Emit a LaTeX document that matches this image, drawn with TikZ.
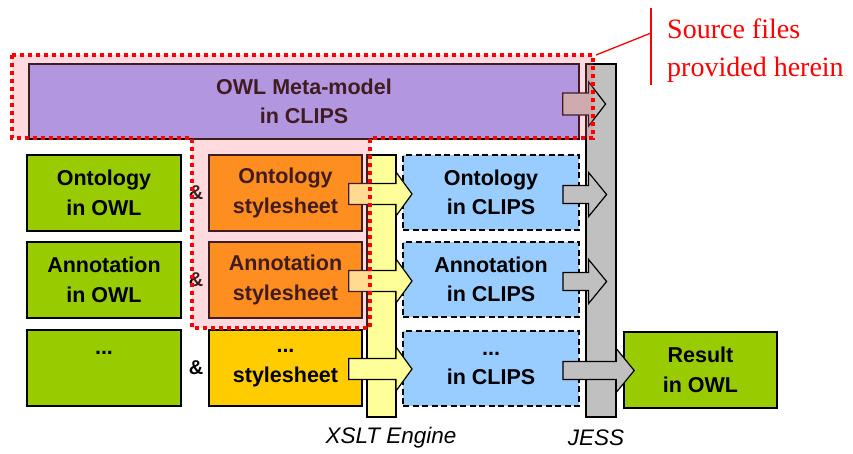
\documentclass[tikz,border=0pt]{standalone}
\usepackage{fontspec}
\setmainfont{Liberation Sans}
\newfontfamily\serifrm{Liberation Serif}
\usetikzlibrary{calc}
\definecolor{owlgreen}{HTML}{99CC00}
\definecolor{owlorange}{HTML}{FF9900}
\definecolor{owlgold}{HTML}{FFCC00}
\definecolor{owlblue}{HTML}{99CCFF}
\definecolor{owllav}{HTML}{99A4FF}
\definecolor{owlyellow}{HTML}{FFFF99}
\definecolor{owlgray}{HTML}{C0C0C0}
\definecolor{owlpink}{HTML}{FF7080}
% #1 style, #2 start coord name, #3 tip coord name (x used), #4 shaft half, #5 head half, #6 head length
\newcommand\blockarrow[6]{%
  \path[#1] let \p1=(#2), \p2=(#3) in
    (\x1,\y1+#4) -- (\x2-#6,\y1+#4) -- (\x2-#6,\y1+#5) -- (\x2,\y1)
    -- (\x2-#6,\y1-#5) -- (\x2-#6,\y1-#4) -- (\x1,\y1-#4) -- cycle;}
\tikzset{
  boxtext/.style={font=\bfseries\fontsize{21.5}{29.5}\selectfont, align=center, text=black},
  solidbox/.style={boxtext, draw=black, line width=1.6pt, rectangle, inner sep=0pt,
    minimum width=154pt, minimum height=76pt},
  greenbox/.style={solidbox, fill=owlgreen},
  orangebox/.style={solidbox, fill=owlorange, minimum width=153pt},
  goldbox/.style={solidbox, fill=owlgold, minimum width=153pt},
  bluebox/.style={boxtext, draw=black, line width=2pt, dash pattern=on 6pt off 3.5pt,
    fill=owlblue, rectangle, inner sep=0pt, minimum width=176pt, minimum height=75pt},
  barbox/.style={draw=black, line width=1.2pt, rectangle, inner sep=0pt},
  yarrow/.style={draw=black, line width=1.2pt, fill=owlyellow},
  garrow/.style={draw=black, line width=1.2pt, fill=owlgray},
  amp/.style={font=\bfseries\fontsize{20}{22}\selectfont},
  caption/.style={font=\itshape\fontsize{22.5}{24}\selectfont},
  hilite/.style={fill=owlpink, fill opacity=0.25, draw=none},
  hiliteborder/.style={draw=red, line width=4pt, dash pattern=on 4pt off 4pt},
  callout/.style={draw=red, line width=1.3pt}
}
\begin{document}
\begin{tikzpicture}[x=1pt,y=-1pt]
\useasboundingbox (0,0) rectangle (853,453);
% bars
\node[barbox, fill=owlgray, minimum width=30pt, minimum height=353pt] (jess) at (601,240.5) {};
\node[barbox, fill=owlyellow, minimum width=29pt, minimum height=262pt] (xslt) at (381.5,286) {};
% meta-model
\node[solidbox, fill=owllav, minimum width=550pt, minimum height=75pt] (meta) at (304,101.5) {OWL Meta-model\\in CLIPS};
% left column
\node[greenbox] (g1) at (104,193) {Ontology\\in OWL};
\node[greenbox] (g2) at (104,280) {Annotation\\in OWL};
\node[greenbox] (g3) at (104,368) {...\\\phantom{x}};
\node[amp] (a1) at (196,193) {\&};
\node[amp] (a2) at (196,280) {\&};
\node[amp] (a3) at (196,368) {\&};
\node[orangebox] (o1) at (285.5,193) {Ontology\\stylesheet};
\node[orangebox] (o2) at (285.5,280) {Annotation\\stylesheet};
\node[goldbox] (o3) at (285.5,368) {...\\stylesheet};
\node[bluebox] (b1) at (491,192.5) {Ontology\\in CLIPS};
\node[bluebox] (b2) at (491,279.5) {Annotation\\in CLIPS};
\node[bluebox] (b3) at (491,368.5) {...\\in CLIPS};
\node[solidbox, fill=owlgreen, minimum width=153pt] (res) at (700.5,370) {Result\\in OWL};
% arrow end points
\coordinate (ms) at ($(meta.east)+(-17,2.5)$);
\coordinate (mt) at ($(jess.east)+(-11,0)$);
\coordinate (ys1) at ($(o1.east)+(-14,1)$);
\coordinate (ys2) at ($(o2.east)+(-14,1)$);
\coordinate (ys3) at ($(o3.east)+(-14,1)$);
\coordinate (yt1) at ($(b1.west)+(10,0)$);
\coordinate (yt2) at ($(b2.west)+(10,0)$);
\coordinate (yt3) at ($(b3.west)+(10,0)$);
\coordinate (gs1) at ($(b1.east)+(-17,2)$);
\coordinate (gs2) at ($(b2.east)+(-17,2)$);
\coordinate (gs3) at ($(b3.east)+(-17,2)$);
\coordinate (gt) at ($(jess.east)+(-10,0)$);
\coordinate (gt3) at ($(res.west)+(11,0)$);
% arrows
\blockarrow{garrow}{ms}{mt}{11pt}{22pt}{17pt}
\blockarrow{yarrow}{ys1}{yt1}{10.5pt}{22pt}{16pt}
\blockarrow{yarrow}{ys2}{yt2}{10.5pt}{22pt}{16pt}
\blockarrow{yarrow}{ys3}{yt3}{10.5pt}{22pt}{16pt}
\blockarrow{garrow}{gs1}{gt}{9pt}{22pt}{18pt}
\blockarrow{garrow}{gs2}{gt}{9pt}{22pt}{18pt}
\blockarrow{garrow}{gs3}{gt3}{9pt}{22pt}{18pt}
% captions
\node[caption] (xl) at (391,438) {XSLT Engine};
\node[caption] (jl) at (596,438) {JESS};
% highlighted region
\path[hilite] (12,55) -- (593,55) -- (593,138) -- (370,138) -- (370,328) -- (192,328) -- (192,138) -- (12,138) -- cycle;
\draw[hiliteborder] (12,55) -- (593,55) -- (593,138) -- (370,138) -- (370,328) -- (192,328) -- (192,138) -- (12,138) -- cycle;
% callout
\coordinate (ct) at (651,8);
\coordinate (cb) at (651,85);
\coordinate (cm) at (651,33);
\coordinate (cr) at (596,55);
\draw[callout] (ct) -- (cb);
\draw[callout] (cm) -- (cr);
\node[text=red, font=\serifrm\fontsize{28}{38}\selectfont, align=left, anchor=west, inner sep=0pt] (src) at (667,51) {Source files\\provided herein};
\end{tikzpicture}
\end{document}
